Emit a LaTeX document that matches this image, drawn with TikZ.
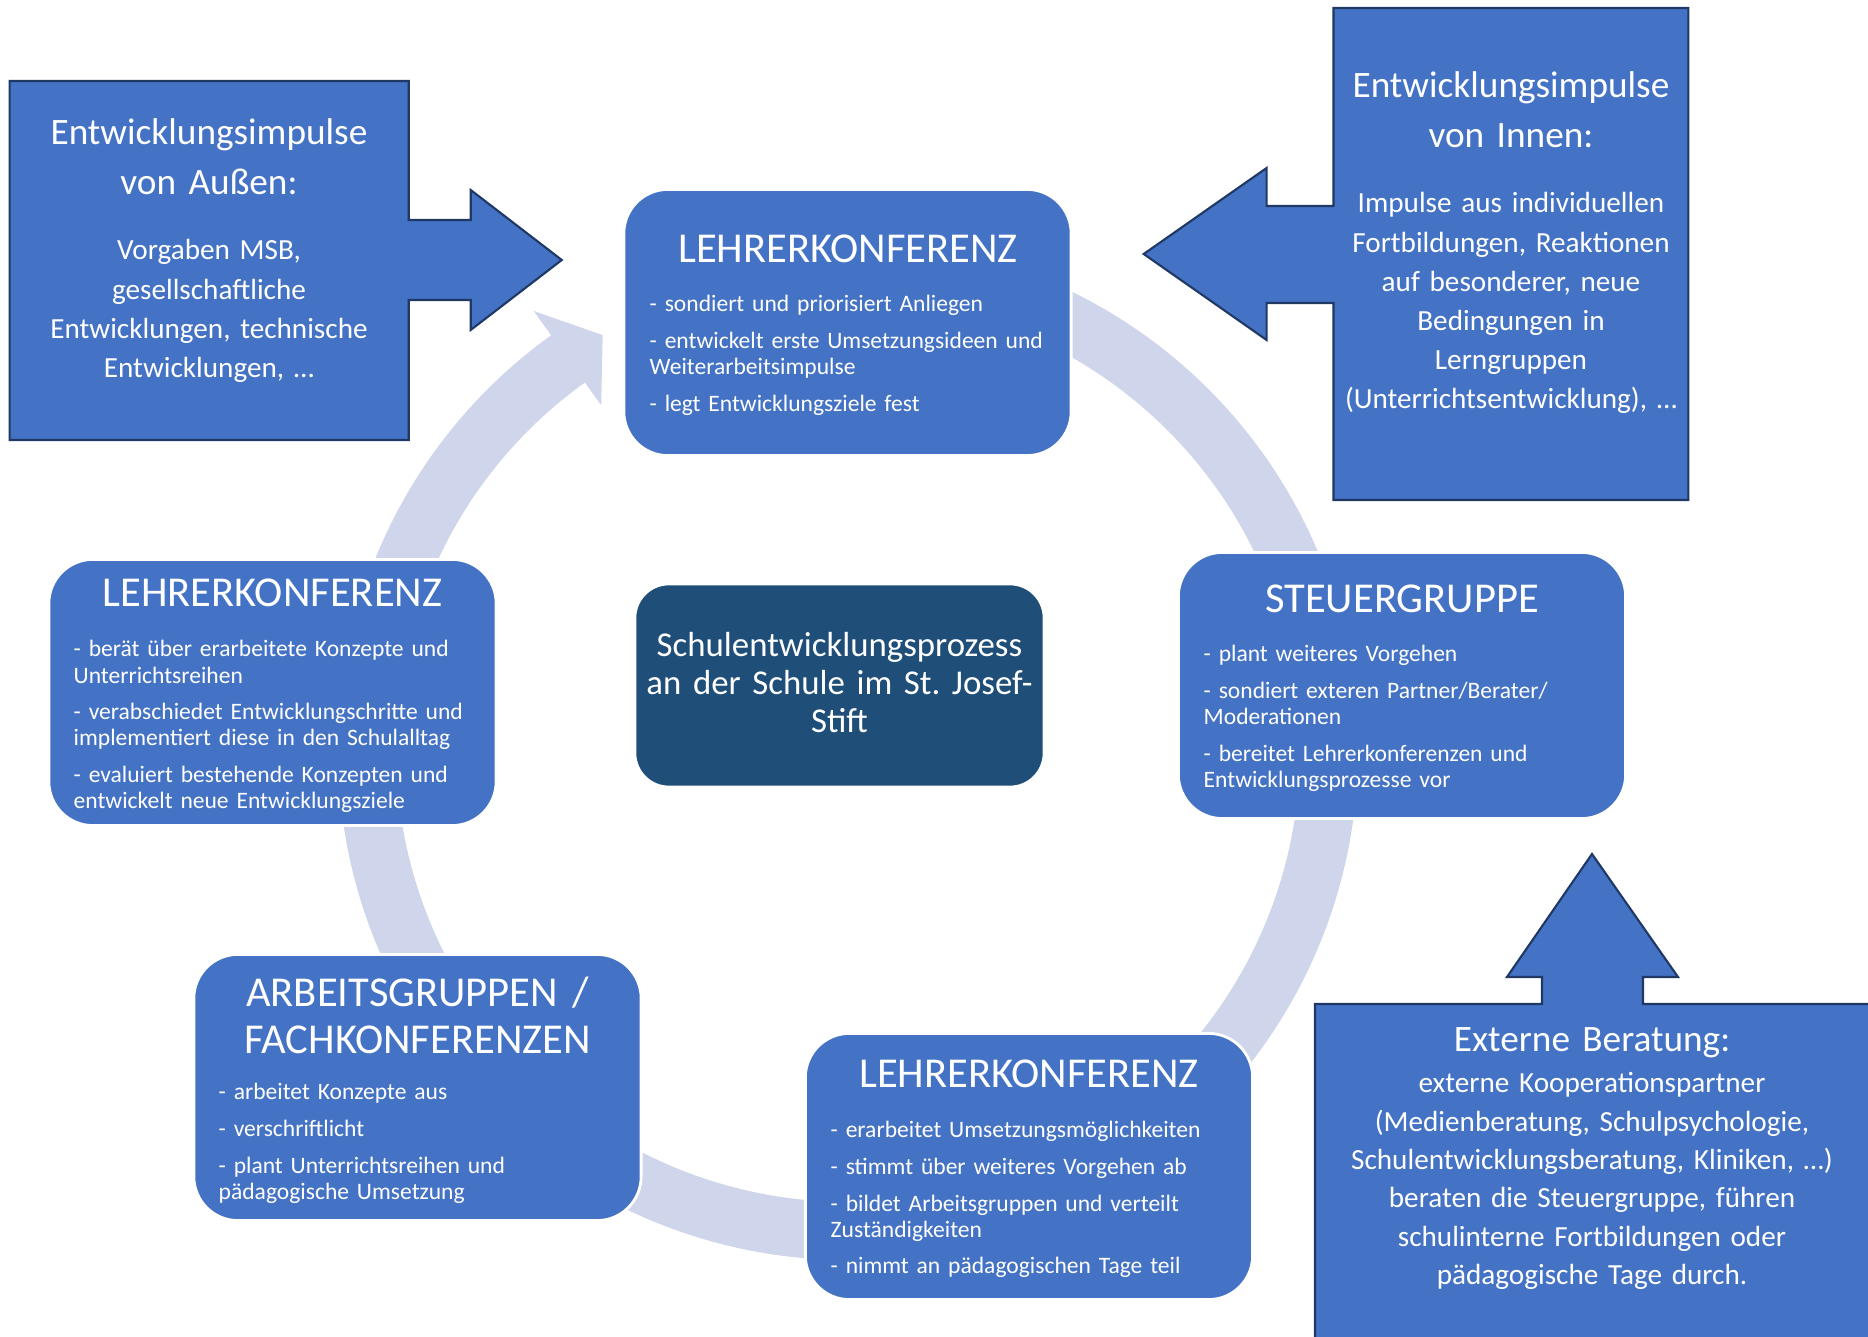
\documentclass[tikz,border=0pt]{standalone}
\usepackage{fontspec}
\setmainfont{Carlito}
\usetikzlibrary{calc}

\definecolor{stageblue}{HTML}{4472C4}
\definecolor{hubblue}{HTML}{1F4E79}
\definecolor{ringgrey}{HTML}{CFD5EA}
\definecolor{edgenavy}{HTML}{1F3864}

\begin{document}
\begin{tikzpicture}
[x=0.01cm,y=-0.01cm,
 stage/.style={rectangle,rounded corners=4.4mm,draw=white,line width=0.8pt,fill=stageblue,
   minimum width=4.47cm,minimum height=2.66cm,inner sep=0pt},
 hub/.style={stage,fill=hubblue,rounded corners=3.4mm,minimum width=4.09cm,minimum height=2.03cm},
 stage title/.style={text=white,inner sep=0pt,anchor=base,text width=4.4cm,align=center,
   font=\fontsize{12.1}{13.1}\selectfont},
 stage text/.style={text=white,inner sep=0pt,anchor=base west,text width=4.3cm,align=left,
   font=\fontsize{6.7}{7.4}\selectfont},
 hub text/.style={text=white,inner sep=0pt,anchor=base,text width=4cm,align=center,
   font=\fontsize{9.9}{10.8}\selectfont},
 impulse/.style={fill=stageblue,draw=edgenavy,line width=0.6pt,line join=miter},
 impulse title/.style={text=white,inner sep=0pt,anchor=base,text width=3.8cm,align=center,
   font=\fontsize{10.6}{14.2}\selectfont},
 impulse text/.style={text=white,inner sep=0pt,anchor=base,text width=5.4cm,align=center,
   font=\fontsize{8.3}{11.1}\selectfont},
 cycle arc/.style={draw=ringgrey,line width=5.8mm}]

\useasboundingbox (0,0) rectangle (1868,1337);
\clip (0,0) rectangle (1868,1337);

% cycle ring behind the stages
\coordinate (ring) at (848,750);
\fill[ringgrey] ($(ring)+(-165:510)$) arc[start angle=-165,end angle=-125.6,radius=510]
  -- ($(ring)+(-125.6:540)$) -- ($(ring)+(-120.6:482)$) -- ($(ring)+(-125.6:424)$)
  -- ($(ring)+(-125.6:452)$) arc[start angle=-125.6,end angle=-165,radius=452] -- cycle;
\draw[cycle arc] ($(ring)+(-75:481)$) arc[start angle=-75,end angle=-15,radius=481];
\draw[cycle arc] ($(ring)+(5:481)$) arc[start angle=5,end angle=60,radius=481];
\draw[cycle arc] ($(ring)+(80:481)$) arc[start angle=80,end angle=125,radius=481];
\draw[cycle arc] ($(ring)+(150:481)$) arc[start angle=150,end angle=185,radius=481];

% stages
\node[stage] (lk1) at (847.5,322.5) {};
\node[stage title] (lk1t) at (848,263) {LEHRERKONFERENZ};
\node[stage text] (lk1b) at (649,312) {- sondiert und priorisiert Anliegen\\[3pt]
- entwickelt erste Umsetzungsideen und\\ Weiterarbeitsimpulse\\[3pt]
- legt Entwicklungsziele fest};

\node[stage] (sg) at (1402,685.5) {};
\node[stage title] (sgt) at (1402,613) {STEUERGRUPPE};
\node[stage text] (sgb) at (1203,662) {- plant weiteres Vorgehen\\[3pt]
- sondiert exteren Partner/Berater/\\ Moderationen\\[3pt]
- bereitet Lehrerkonferenzen und\\ Entwicklungsprozesse vor};

\node[stage] (lk3) at (1029,1166.5) {};
\node[stage title] (lk3t) at (1029,1088) {LEHRERKONFERENZ};
\node[stage text] (lk3b) at (830,1138) {- erarbeitet Umsetzungsmöglichkeiten\\[3pt]
- stimmt über weiteres Vorgehen ab\\[3pt]
- bildet Arbeitsgruppen und verteilt\\ Zuständigkeiten\\[3pt]
- nimmt an pädagogischen Tage teil};

\node[stage] (ag) at (417.5,1087.5) {};
\node[stage title] (agt) at (417.5,1007) {ARBEITSGRUPPEN /\\ FACHKONFERENZEN};
\node[stage text] (agb) at (218,1100) {- arbeitet Konzepte aus\\[3pt]
- verschriftlicht\\[3pt]
- plant Unterrichtsreihen und\\ pädagogische Umsetzung};

\node[stage] (lk2) at (272.5,692.5) {};
\node[stage title] (lk2t) at (272.5,607) {LEHRERKONFERENZ};
\node[stage text] (lk2b) at (73,657) {- berät über erarbeitete Konzepte und\\ Unterrichtsreihen\\[3pt]
- verabschiedet Entwicklungschritte und\\ implementiert diese in den Schulalltag\\[3pt]
- evaluiert bestehende Konzepten und\\ entwickelt neue Entwicklungsziele};

\node[hub] (hub) at (839.5,685.5) {};
\node[hub text] (hubt) at (839.5,657) {Schulentwicklungsprozess\\ an der Schule im St.\ Josef-\\ Stift};

% impulses from outside, inside and external counselling
\draw[impulse] (9.6,81) -- (408.7,81) -- (408.7,220) -- (470.7,220) -- (470.7,190) -- (561.8,260)
  -- (470.7,330) -- (470.7,300) -- (408.7,300) -- (408.7,440) -- (9.6,440) -- cycle;
\node[impulse title] (aussent) at (209,145) {Entwicklungsimpulse\\ von Außen:};
\node[impulse text] (aussenb) at (209,260) {Vorgaben MSB,\\ gesellschaftliche\\
Entwicklungen, technische\\ Entwicklungen, …};

\draw[impulse] (1688.3,8) -- (1333.5,8) -- (1333.5,206) -- (1266.6,206) -- (1266.6,168) -- (1143.7,254)
  -- (1266.6,340) -- (1266.6,303) -- (1333.5,303) -- (1333.5,500) -- (1688.3,500) -- cycle;
\node[impulse title] (innent) at (1511,98) {Entwicklungsimpulse\\ von Innen:};
\node[impulse text] (innenb) at (1511,213) {Impulse aus individuellen\\
Fortbildungen, Reaktionen\\ auf besonderer, neue\\ Bedingungen in\\ Lerngruppen\\
(Unterrichtsentwicklung), …};

\draw[impulse] (1315,1360) -- (1315,1004) -- (1542,1004) -- (1542,977) -- (1507,977)
  -- (1592,854) -- (1678,977) -- (1643,977) -- (1643,1004) -- (1880,1004) -- (1880,1360) -- cycle;
\node[impulse title] (extt) at (1592,1052) {Externe Beratung:};
\node[impulse text,font=\fontsize{8.3}{10.9}\selectfont] (extb) at (1592,1093)
  {externe Kooperationspartner\\ (Medienberatung, Schulpsychologie,\\
Schulentwicklungsberatung, Kliniken, …)\\ beraten die Steuergruppe, führen\\
schulinterne Fortbildungen oder\\ pädagogische Tage durch.};

\end{tikzpicture}
\end{document}
